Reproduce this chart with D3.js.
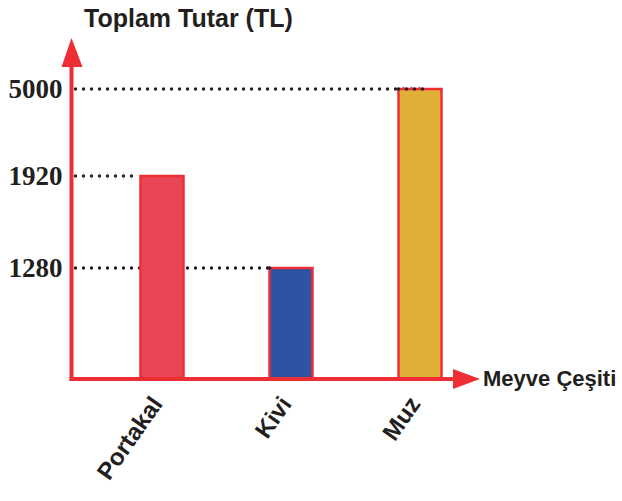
<!DOCTYPE html>
<html>
<head>
<meta charset="utf-8">
<script src="https://cdn.jsdelivr.net/npm/d3@7"></script>
<style>
  html, body { margin: 0; padding: 0; background: #fff; }
  svg { display: block; }
</style>
</head>
<body>
<script>
const categories = ["Portakal", "Kivi", "Muz"];
const values = [1920, 1280, 5000];
const tickValues = [1280, 1920, 5000];
const tickLabels = ["1280", "1920", "5000"];
const colors = ["#e94555", "#2d53a3", "#e1ae37"];
const yTitle = "Toplam Tutar (TL)";
const xTitle = "Meyve Çeşiti";

const W = 622, H = 501;
const red = "#ee2e34";
const svg = d3.select("body").append("svg").attr("width", W).attr("height", H);
svg.append("rect").attr("width", W).attr("height", H).attr("fill", "#fff");

const x0 = 71.5, yBase = 379;
// schematic (non-proportional) value axis, as in the picture
const y = d3.scaleLinear().domain([0, 1280, 1920, 5000]).range([yBase, 268, 176, 89]);
const x = d3.scalePoint().domain(categories).range([162, 420]);
const bw = 43;
const guideOffset = { "Portakal": -25, "Kivi": -16, "Muz": 6 };

// dotted guide lines
svg.append("g").selectAll("line").data(tickValues).join("line")
  .attr("x1", x0 + 4)
  .attr("x2", d => { const c = categories[values.indexOf(d)]; return x(c) + guideOffset[c]; })
  .attr("y1", d => y(d)).attr("y2", d => y(d))
  .attr("stroke", "#231f20").attr("stroke-width", 3.4)
  .attr("stroke-linecap", "round").attr("stroke-dasharray", "0 8");

// bars
svg.append("g").selectAll("rect").data(values).join("rect")
  .attr("x", (d, i) => x(categories[i]) - bw / 2)
  .attr("y", d => y(d))
  .attr("width", bw)
  .attr("height", d => yBase - y(d))
  .attr("fill", (d, i) => colors[i])
  .attr("stroke", red).attr("stroke-width", 2.5);

// redraw guides that run over the bars
svg.append("g").selectAll("line").data(tickValues.filter(d => d !== 1920)).join("line")
  .attr("x1", d => x(categories[values.indexOf(d)]) - bw / 2)
  .attr("x2", d => { const c = categories[values.indexOf(d)]; return x(c) + guideOffset[c]; })
  .attr("y1", d => y(d)).attr("y2", d => y(d))
  .attr("stroke", "#231f20").attr("stroke-width", 3.4)
  .attr("stroke-linecap", "round").attr("stroke-dasharray", "0 8");

// y axis (labels through d3 axis)
const yAxis = d3.axisLeft(y).tickValues(tickValues)
  .tickFormat(d => tickLabels[tickValues.indexOf(d)])
  .tickSize(0).tickPadding(9);
const gy = svg.append("g").attr("transform", `translate(${x0},0)`).call(yAxis);
gy.select(".domain").remove();
gy.selectAll("text")
  .attr("font-family", "'Liberation Serif', 'Times New Roman', serif")
  .attr("font-weight", "bold").attr("font-size", 27).attr("fill", "#231f20")
  .attr("dy", "0.33em");

// x axis labels
const xAxis = d3.axisBottom(x).tickSize(0).tickPadding(0);
const gx = svg.append("g").attr("transform", `translate(0,${yBase})`).call(xAxis);
gx.select(".domain").remove();
gx.selectAll("text")
  .attr("font-family", "'Liberation Sans', Arial, sans-serif")
  .attr("font-weight", "bold").attr("font-size", 24).attr("fill", "#231f20")
  .attr("text-anchor", "end").attr("dy", 0)
  .attr("transform", "translate(1,25) rotate(-55)");

// axis lines with arrows
svg.append("line").attr("x1", x0).attr("x2", x0).attr("y1", yBase + 2).attr("y2", 60)
  .attr("stroke", red).attr("stroke-width", 4);
svg.append("path").attr("d", `M${x0},38 L${x0 - 10},67 L${x0 + 11},67 Z`).attr("fill", red);
svg.append("line").attr("x1", x0 - 2).attr("x2", 460).attr("y1", yBase).attr("y2", yBase)
  .attr("stroke", red).attr("stroke-width", 4);
svg.append("path").attr("d", `M480,${yBase} L453,${yBase - 10} L453,${yBase + 10} Z`).attr("fill", red);

// titles
svg.append("text").attr("x", 84).attr("y", 27).text(yTitle)
  .attr("font-family", "'Liberation Sans', Arial, sans-serif")
  .attr("font-weight", "bold").attr("font-size", 25).attr("fill", "#231f20");
svg.append("text").attr("x", 483).attr("y", 386).text(xTitle)
  .attr("font-family", "'Liberation Sans', Arial, sans-serif")
  .attr("font-weight", "bold").attr("font-size", 22).attr("fill", "#231f20");
</script>
</body>
</html>
